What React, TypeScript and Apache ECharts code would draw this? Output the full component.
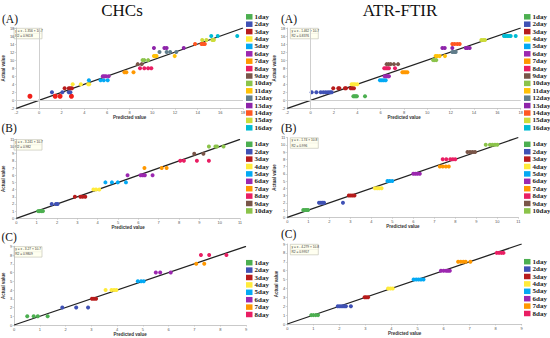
import React, { useEffect, useRef } from "react";
import * as echarts from "echarts";

// ---------- data ----------
const dayNames = ["1day","2day","3day","4day","5day","6day","7day","8day","9day","10day","11day","12day","13day","14day","15day","16day"];
const dayColors = ["#4caf50","#3f51b5","#b71c1c","#ffeb3b","#03a9f4","#9c27b0","#ff9800","#e91e63","#795548","#8bc34a","#ffc107","#607d8b","#8e24aa","#ff5722","#cddc39","#00bcd4"];

// predicted values per day; actual value = day index + 1
const chcsA: number[][] = [
  [-0.8, 1.43, 1.86, 2.86],
  [1.14, 2.06, 2.63, 2.77],
  [2.26, 2.63, 2.77, 2.91],
  [2.97, 3.69, 4.34, 4.43],
  [4.4, 5.43, 5.71, 6.06],
  [5.63, 5.77, 5.91, 6.14],
  [7.54, 7.71, 8.34],
  [8.91, 9.29, 9.63, 9.91],
  [8.71, 9.06],
  [9.14, 9.29, 9.63],
  [10.14, 10.26, 10.37, 11.97],
  [10.63, 11.26, 11.57, 12.11],
  [10.14, 11.06, 11.26, 12.77],
  [13.77, 14.34, 14.49, 14.63],
  [14.4, 14.77, 15.29, 15.43],
  [15.2, 15.77, 17.49],
];
const atrA: number[][] = [
  [3.66, 3.76, 3.86, 3.96, 4.66],
  [0.09, 0.49, 0.86, 1.09, 1.29, 1.49, 1.66, 1.8],
  [1.94, 2.37, 2.46, 2.94, 3.03, 3.43, 3.57, 3.71],
  [3.51, 3.66, 3.8, 4.0],
  [5.94, 6.1, 6.26, 6.43],
  [6.34, 6.5, 6.62, 6.71],
  [7.86, 8.0, 8.14, 8.29],
  [6.31, 6.45, 6.58, 6.71, 7.23],
  [6.51, 6.68, 6.86, 7.14, 7.49],
  [10.49, 10.63, 10.77],
  [10.71, 10.86, 11.06, 11.51],
  [12.14, 12.29, 12.43],
  [11.29, 11.49, 12.14, 13.29, 13.43, 13.63],
  [12.14, 12.34, 12.57, 12.77],
  [14.63, 14.8, 14.94],
  [16.57, 16.71, 16.86, 17.0, 17.14, 17.57],
];
const chcsB: number[][] = [
  [1.07, 1.15, 1.23, 1.31],
  [1.74, 1.95, 2.03],
  [2.88, 3.15, 3.26, 3.39],
  [3.79, 3.92, 4.08],
  [4.38, 4.7, 4.99, 5.39],
  [5.47, 6.11, 6.22, 6.32, 6.7],
  [6.3, 7.15, 7.39],
  [8.06, 8.24, 8.88, 9.47],
  [8.75, 9.2],
  [9.47, 9.79, 9.87, 10.19],
];
const atrB: number[][] = [
  [0.76, 0.85, 0.92, 0.99],
  [1.51, 1.6, 1.68, 1.75, 2.65],
  [2.93, 3.02, 3.11, 3.2],
  [4.17, 4.28, 4.38, 4.49],
  [4.77, 4.88, 5.0],
  [6.0, 6.1, 6.2, 6.31],
  [7.26, 7.4, 7.55, 7.69],
  [7.4, 7.57, 7.76, 7.88, 8.0],
  [8.58, 8.7, 8.82, 8.94],
  [9.45, 9.65, 9.77, 9.89, 10.0],
];
const chcsC: number[][] = [
  [0.51, 0.76, 0.92, 1.3],
  [1.87, 2.41, 2.87],
  [3.02, 3.1, 3.18],
  [3.55, 3.78, 3.88, 3.97],
  [4.8, 4.93, 5.03],
  [5.5, 5.67, 6.08],
  [7.07, 7.38],
  [7.25, 7.57, 8.24],
];
const atrC: number[][] = [
  [0.92, 1.0, 1.09, 1.18],
  [1.94, 2.02, 2.1, 2.18, 2.25, 2.44],
  [2.97, 3.03, 3.1],
  [3.87, 3.96, 4.05],
  [4.85, 4.95, 5.04, 5.13, 5.23],
  [5.9, 6.0, 6.1, 6.17, 6.24],
  [6.56, 6.66, 6.76, 6.85, 7.03],
  [8.04, 8.13, 8.22, 8.3],
];

const eqLines = [
  ["y = x - 1.356 × 10-7", "R2 = 0.9618"],
  ["y = x - 1.462 × 10-7", "R2 = 0.8376"],
  ["y = x - 3.241 × 10-7", "R2 = 0.982"],
  ["y = x - 1.74 × 10-8", "R2 = 0.996"],
  ["y = x - 3.27 × 10-7", "R2 = 0.9809"],
  ["y = x - 4.279 × 10-8", "R2 = 0.9957"],
];
const panelLabels = ["(A)", "(A)", "(B)", "(B)", "(C)", "(C)"];
const columnTitles = ["CHCs", "ATR-FTIR"];

// ---------- layout ----------
const panels = [
  { data: chcsA, min: -2, max: 18, step: 2, grid: { left: 11, top: 28, width: 232, height: 80.3 }, legend: { left: 246, top: 13.3 }, label: { x: 2, y: 19 }, zero: true },
  { data: atrA, min: -2, max: 18, step: 2, grid: { left: 287.3, top: 28, width: 233.4, height: 80.3 }, legend: { left: 524, top: 13.3 }, label: { x: 281, y: 19 }, zero: true },
  { data: chcsB, min: 0, max: 11, step: 1, grid: { left: 11, top: 139.3, width: 229, height: 79 }, legend: { left: 246, top: 140.8 }, label: { x: 1.5, y: 128 }, zero: false },
  { data: atrB, min: 0, max: 11, step: 1, grid: { left: 287.3, top: 137.5, width: 231, height: 79.8 }, legend: { left: 524, top: 140.8 }, label: { x: 281, y: 127.5 }, zero: false },
  { data: chcsC, min: 0, max: 9, step: 1, grid: { left: 11, top: 246.3, width: 235, height: 80.4 }, legend: { left: 246, top: 259.2 }, label: { x: 1.5, y: 236.5 }, zero: false },
  { data: atrC, min: 0, max: 9, step: 1, grid: { left: 287.3, top: 244, width: 234.4, height: 80 }, legend: { left: 524, top: 258.2 }, label: { x: 281, y: 233.5 }, zero: false },
];

const serif = "'Liberation Serif', 'Times New Roman', serif";

function buildOption() {
  const grid: any[] = [];
  const xAxis: any[] = [];
  const yAxis: any[] = [];
  const series: any[] = [];
  const legend: any[] = [];
  const graphic: any[] = [];

  const axisCommon = (i: number, p: any) => ({
    gridIndex: i,
    type: "value",
    min: p.min,
    max: p.max,
    interval: p.step,
    axisLine: { show: true, onZero: false, lineStyle: { color: "#bbb", width: 0.8 } },
    axisTick: { show: true, length: 1.5, lineStyle: { color: "#bbb", width: 0.6 } },
    axisLabel: { fontSize: 4, color: "#555", margin: 2, fontFamily: "Arial, sans-serif" },
    splitLine: { show: false },
    nameLocation: "middle",
    nameTextStyle: { fontSize: 4.5, fontWeight: "bold", color: "#333", fontFamily: "Arial, sans-serif" },
  });

  panels.forEach((p, i) => {
    grid.push({ ...p.grid, containLabel: false });
    xAxis.push({ ...axisCommon(i, p), name: "Predicted value", nameGap: 7 });
    yAxis.push({ ...axisCommon(i, p), name: "Actual value", nameGap: 7, nameRotate: 90 });

    // fit line y = x
    series.push({
      type: "line",
      xAxisIndex: i,
      yAxisIndex: i,
      data: [[p.min, p.min], [p.max, p.max]],
      symbol: "none",
      silent: true,
      z: 1,
      lineStyle: { color: "#222", width: 1.3 },
      markLine: p.zero
        ? {
            silent: true,
            symbol: "none",
            label: { show: false },
            lineStyle: { color: "#cfcfcf", width: 1, type: "solid" },
            data: [{ xAxis: 0 }, { yAxis: 0 }],
          }
        : undefined,
    });

    p.data.forEach((preds, d) => {
      const isRedDay1 = i === 0 && d === 0;
      series.push({
        type: "scatter",
        name: dayNames[d],
        xAxisIndex: i,
        yAxisIndex: i,
        data: preds.map((v) => [v, d + 1]),
        symbolSize: isRedDay1 ? 5 : 4,
        z: 3,
        itemStyle: { color: isRedDay1 ? "#f0201a" : dayColors[d], opacity: 1 },
      });
    });

    legend.push({
      orient: "vertical",
      left: p.legend.left,
      top: p.legend.top,
      itemWidth: 6.5,
      itemHeight: 5.5,
      itemGap: 0.4,
      selectedMode: false,
      padding: 0,
      textStyle: { fontSize: 7, lineHeight: 7, fontWeight: "bold", fontFamily: serif, color: "#222", padding: [0, 0, 0, -3] },
      data: p.data.map((_, d) => ({ name: dayNames[d], icon: "rect", itemStyle: { color: dayColors[d] } })),
    });

    // equation box
    const g = p.grid;
    graphic.push({
      type: "group",
      left: g.left + 0.5,
      top: g.top,
      children: [
        { type: "rect", shape: { x: 0, y: 0, width: 28, height: 10.5 }, style: { fill: "#fffff0", stroke: "#bdbdb0", lineWidth: 0.6 } },
        { type: "line", shape: { x1: 0, y1: 5.2, x2: 28, y2: 5.2 }, style: { stroke: "#e6e6d6", lineWidth: 0.4 } },
        { type: "text", x: 1.2, y: 0.9, style: { text: eqLines[i][0], fontSize: 3.2, fill: "#333", fontFamily: "Arial, sans-serif" } },
        { type: "text", x: 1.2, y: 6.1, style: { text: eqLines[i][1], fontSize: 3.2, fill: "#333", fontFamily: "Arial, sans-serif" } },
      ],
    });

    graphic.push({
      type: "text",
      x: p.label.x,
      y: p.label.y,
      style: { text: panelLabels[i], fontSize: 11.5, fill: "#111", fontFamily: serif, verticalAlign: "middle" },
    });
  });

  graphic.push({ type: "text", x: 122, y: 10, style: { text: columnTitles[0], fontSize: 17, fill: "#111", fontFamily: serif, align: "center", verticalAlign: "middle" } });
  graphic.push({ type: "text", x: 400, y: 10, style: { text: columnTitles[1], fontSize: 17, fill: "#111", fontFamily: serif, align: "center", verticalAlign: "middle" } });

  return {
    animation: false,
    backgroundColor: "#ffffff",
    grid,
    xAxis,
    yAxis,
    legend,
    series,
    graphic,
  };
}

export default function App() {
  const ref = useRef<HTMLDivElement>(null);
  useEffect(() => {
    if (!ref.current) return;
    const chart = echarts.init(ref.current, undefined, { renderer: "svg" });
    chart.setOption(buildOption() as any);
    return () => chart.dispose();
  }, []);
  return <div ref={ref} style={{ position: "absolute", left: 0, top: 0, width: 550, height: 338 }} />;
}
